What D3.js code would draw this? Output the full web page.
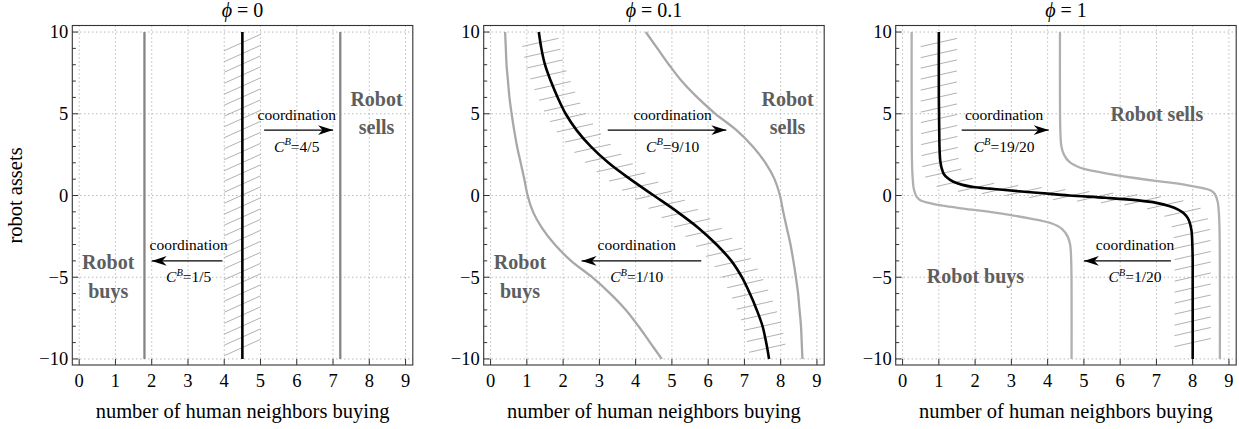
<!DOCTYPE html>
<html>
<head>
<meta charset="utf-8">
<script src="https://cdn.jsdelivr.net/npm/d3@7"></script>
<style>
  body { margin: 0; background: #fff; }
  svg { display: block; }
</style>
</head>
<body>
<div id="chart"></div>
<script>
// ---- data ----
const phiValues = ["0", "0.1", "1"];
const xTickValues = [0, 1, 2, 3, 4, 5, 6, 7, 8, 9];
const yTickValues = [-10, -5, 0, 5, 10];
const yMinorValues = [-10, -9, -8, -7, -6, -5, -4, -3, -2, -1, 0, 1, 2, 3, 4, 5, 6, 7, 8, 9, 10];
const cbUp = ["4/5", "9/10", "19/20"];
const cbDown = ["1/5", "1/10", "1/20"];

// phi = 0 : [x, robot assets]
const phi0Black = [[4.5, 10], [4.5, -10]];
const phi0GrayLeft = [[1.8, 10], [1.8, -10]];
const phi0GrayRight = [[7.2, 10], [7.2, -10]];

// phi = 0.1
const phi01Black = [[1.33,10],[1.40,9],[1.50,8],[1.66,7],[1.85,6],[2.07,5],[2.37,4],[2.76,3],[3.25,2],[3.85,1],
  [4.5,0],[5.15,-1],[5.74,-2],[6.23,-3],[6.64,-4],[6.93,-5],[7.15,-6],[7.34,-7],[7.5,-8],[7.6,-9],[7.68,-10]];
const phi01GrayLeft = [[0.40,10],[0.42,9],[0.44,8],[0.48,7],[0.52,6],[0.58,5],[0.65,4],[0.73,3],[0.83,2],[0.93,1],
  [1.02,0],[1.17,-1],[1.42,-2],[1.77,-3],[2.22,-4],[2.8,-5],[3.3,-6],[3.73,-7],[4.08,-8],[4.4,-9],[4.72,-10]];
const phi01GrayRight = [[4.28,10],[4.6,9],[4.92,8],[5.27,7],[5.7,6],[6.2,5],[6.78,4],[7.23,3],[7.58,2],[7.83,1],
  [7.98,0],[8.07,-1],[8.17,-2],[8.27,-3],[8.35,-4],[8.42,-5],[8.48,-6],[8.52,-7],[8.56,-8],[8.58,-9],[8.6,-10]];

// phi = 1
const phi1Black = [[1.00,10],[1.00,6],[1.01,4],[1.02,2.8],[1.04,2.1],[1.08,1.65],[1.14,1.3],[1.25,1.05],[1.40,0.84],
  [1.65,0.65],[1.95,0.52],[2.4,0.42],[2.9,0.32],[3.8,0.15],[4.6,0.0],[5.6,-0.14],[6.5,-0.3],[7.0,-0.45],[7.35,-0.64],
  [7.6,-0.86],[7.76,-1.1],[7.87,-1.4],[7.93,-1.75],[7.97,-2.2],[7.99,-3],[8.0,-4],[8.0,-6],[8.0,-10]];
const phi1GrayLeft = [[0.25,10],[0.25,5],[0.26,2],[0.28,1.0],[0.31,0.4],[0.39,-0.09],[0.5,-0.3],[0.75,-0.46],
  [1.2,-0.65],[1.67,-0.8],[2.6,-1.07],[3.5,-1.4],[4.1,-1.7],[4.4,-2.05],[4.55,-2.5],[4.62,-3.0],[4.65,-4],[4.66,-6],[4.66,-10]];
const phi1GrayRight = [[4.34,10],[4.34,6],[4.35,4],[4.38,3],[4.45,2.5],[4.6,2.05],[4.9,1.7],[5.5,1.4],[6.4,1.07],
  [7.33,0.8],[7.8,0.65],[8.25,0.46],[8.5,0.3],[8.61,0.09],[8.69,-0.4],[8.72,-1.0],[8.74,-2],[8.75,-5],[8.75,-10]];

// annotation anchors (data coords)
const arrowUpFrom = [5.1, 3.23, 1.63];
const arrowUpTo = [7.0, 6.5, 4.03];
const labelUpX = [6.0, 5.02, 2.8];
const arrowDownFrom = [3.95, 5.81, 7.4];
const arrowDownTo = [2.0, 2.51, 5.0];
const labelDownX = [3.02, 4.03, 6.41];
const sellsText = [["Robot", "sells"], ["Robot", "sells"], ["Robot sells"]];
const buysText = [["Robot", "buys"], ["Robot", "buys"], ["Robot buys"]];
const sellsPos = [[8.2, 5.47], [8.19, 5.47], [7.01, 4.57]];
const buysPos = [[0.8, -4.51], [0.81, -4.51], [2.01, -5.33]];

const panels = [
  {phi: phiValues[0], black: phi0Black, grays: [phi0GrayLeft, phi0GrayRight], grayColor: "#858585", hatchDy: 0.5},
  {phi: phiValues[1], black: phi01Black, grays: [phi01GrayLeft, phi01GrayRight], grayColor: "#a8a8a8", hatchDy: 0.25},
  {phi: phiValues[2], black: phi1Black, grays: [phi1GrayLeft, phi1GrayRight], grayColor: "#b0b0b0", hatchDy: 0.25}
];

// ---- layout ----
const width = 1239, height = 429;
const panelLeft = [72.3, 483.7, 895.7];
const panelW = 340.5, plotTop = 25.5, plotBottom = 365;

const svg = d3.select("#chart").append("svg")
  .attr("width", width).attr("height", height)
  .attr("font-family", "'Liberation Serif', 'Times New Roman', serif");

const defs = svg.append("defs");
defs.append("marker")
  .attr("id", "head")
  .attr("markerUnits", "userSpaceOnUse")
  .attr("viewBox", "-16 -6 17 12")
  .attr("refX", 0).attr("refY", 0)
  .attr("markerWidth", 17).attr("markerHeight", 12)
  .attr("orient", "auto")
  .append("path")
    .attr("d", "M0,0 L-15,-4.8 L-10.5,0 L-15,4.8 Z")
    .attr("fill", "#000");

const line = d3.line().curve(d3.curveCatmullRom.alpha(0.5));

panels.forEach((p, i) => {
  const L = panelLeft[i];
  const x = d3.scaleLinear().domain([-0.19, 9.2]).range([L, L + panelW]);
  const y = d3.scaleLinear().domain([-10.37, 10.4]).range([plotBottom, plotTop]);
  line.x(d => x(d[0])).y(d => y(d[1]));

  const g = svg.append("g");

  // grid
  g.append("g").selectAll("line").data(xTickValues).join("line")
    .attr("x1", d => x(d)).attr("x2", d => x(d))
    .attr("y1", plotTop).attr("y2", plotBottom)
    .attr("stroke", "#9a9a9a").attr("stroke-width", 1).attr("stroke-dasharray", "1,3");
  g.append("g").selectAll("line").data(yTickValues).join("line")
    .attr("y1", d => y(d)).attr("y2", d => y(d))
    .attr("x1", L).attr("x2", L + panelW)
    .attr("stroke", "#9a9a9a").attr("stroke-width", 1).attr("stroke-dasharray", "1,3");

  // ticks
  g.append("g").selectAll("line").data(yMinorValues).join("line")
    .attr("x1", L).attr("x2", d => L + (yTickValues.includes(d) ? 6 : 3.5))
    .attr("y1", d => y(d)).attr("y2", d => y(d))
    .attr("stroke", "#333").attr("stroke-width", 1);
  g.append("g").selectAll("line").data(xTickValues).join("line")
    .attr("x1", d => x(d)).attr("x2", d => x(d))
    .attr("y1", plotBottom).attr("y2", plotBottom - 6)
    .attr("stroke", "#333").attr("stroke-width", 1);

  // tick labels
  g.append("g").selectAll("text").data(xTickValues).join("text")
    .attr("x", d => x(d)).attr("y", 386.5)
    .attr("text-anchor", "middle").attr("font-size", 18.5)
    .text(d => d);
  g.append("g").selectAll("text").data(yTickValues).join("text")
    .attr("x", L - 4).attr("y", d => y(d) + 6.4)
    .attr("text-anchor", "end").attr("font-size", 18.5)
    .text(d => d < 0 ? "\u2212" + Math.abs(d) : d);

  // black curve (path first used to sample hatch positions)
  const blackPath = g.append("path").datum(p.black)
    .attr("d", line).attr("fill", "none").attr("stroke", "none");

  const node = blackPath.node();
  const total = node.getTotalLength();
  const samples = [];
  let prev = null, acc = 0;
  for (let s = 0; s <= total; s += 0.5) {
    const pt = node.getPointAtLength(s);
    const d = [x.invert(pt.x), y.invert(pt.y)];
    if (prev) acc += Math.hypot(d[0] - prev[0], d[1] - prev[1]);
    samples.push({d, acc});
    prev = d;
  }
  const spacing = 0.667;
  const hatchPts = [];
  let next = 0.62;
  samples.forEach(s => {
    if (s.acc >= next && s.acc <= acc - 0.4) { hatchPts.push(s.d); next += spacing; }
  });
  g.append("g").selectAll("line").data(hatchPts).join("line")
    .attr("x1", d => x(d[0] - 0.5)).attr("y1", d => y(d[1] - p.hatchDy))
    .attr("x2", d => x(d[0] + 0.5)).attr("y2", d => y(d[1] + p.hatchDy))
    .attr("stroke", "#a8a8a8").attr("stroke-width", 0.9);

  // gray curves
  g.append("g").selectAll("path").data(p.grays).join("path")
    .attr("d", line).attr("fill", "none")
    .attr("stroke", p.grayColor).attr("stroke-width", 2.3);

  blackPath.raise().attr("stroke", "#000").attr("stroke-width", 2.6);

  // arrows + labels
  const arrows = [
    {from: arrowUpFrom[i], to: arrowUpTo[i], v: 4, lx: labelUpX[i], frac: cbUp[i]},
    {from: arrowDownFrom[i], to: arrowDownTo[i], v: -4, lx: labelDownX[i], frac: cbDown[i]}
  ];
  arrows.forEach(a => {
    g.append("line")
      .attr("x1", x(a.from)).attr("x2", x(a.to))
      .attr("y1", y(a.v)).attr("y2", y(a.v))
      .attr("stroke", "#000").attr("stroke-width", 1.2)
      .attr("marker-end", "url(#head)");
    g.append("text")
      .attr("x", x(a.lx)).attr("y", y(a.v) - 10.5)
      .attr("text-anchor", "middle").attr("font-size", 15.5)
      .text("coordination");
    const t = g.append("text")
      .attr("x", x(a.lx)).attr("y", y(a.v) + 21.5)
      .attr("text-anchor", "middle").attr("font-size", 15.5);
    t.append("tspan").attr("font-style", "italic").text("C");
    t.append("tspan").attr("font-style", "italic").attr("font-size", 10.5).attr("dy", -6.5).text("B");
    t.append("tspan").attr("dy", 6.5).text("=" + a.frac);
  });

  // region labels
  [[sellsText[i], sellsPos[i]], [buysText[i], buysPos[i]]].forEach(([lines, pos]) => {
    lines.forEach((txt, k) => {
      g.append("text")
        .attr("x", x(pos[0])).attr("y", y(pos[1]) + k * 28.4)
        .attr("text-anchor", "middle").attr("font-size", 20)
        .attr("font-weight", "bold").attr("fill", "#5e5e5e")
        .text(txt);
    });
  });

  // frame
  g.append("rect")
    .attr("x", L).attr("y", plotTop).attr("width", panelW).attr("height", plotBottom - plotTop)
    .attr("fill", "none").attr("stroke", "#333").attr("stroke-width", 1.1);

  // title
  const title = g.append("text")
    .attr("x", L + panelW / 2).attr("y", 16.5)
    .attr("text-anchor", "middle").attr("font-size", 20);
  title.append("tspan").attr("font-style", "italic").text("\u03D5");
  title.append("tspan").text(" = " + p.phi);

  // x axis label
  g.append("text")
    .attr("x", L + panelW / 2).attr("y", 418)
    .attr("text-anchor", "middle").attr("font-size", 20.5)
    .text("number of human neighbors buying");
});

// y axis label
svg.append("text")
  .attr("transform", "translate(22,195.5) rotate(-90)")
  .attr("text-anchor", "middle").attr("font-size", 20.5)
  .text("robot assets");
</script>
</body>
</html>
